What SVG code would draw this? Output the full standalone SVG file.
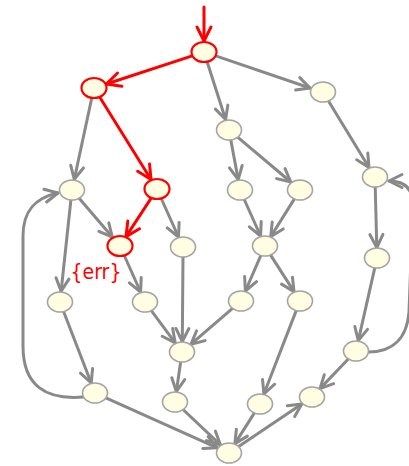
<svg xmlns="http://www.w3.org/2000/svg" width="409" height="466" viewBox="0 0 409 466">
  <style>
    .edge { fill: none; stroke: #898989; stroke-width: 3; stroke-linecap: round; }
    .edge.hot { stroke: #ff0000; }
    .node ellipse { fill: #fffde2; stroke: #a4a4a4; stroke-width: 1.6; }
    .node.hot ellipse { stroke: #ff0000; stroke-width: 2.2; }
    .label { font-family: "DejaVu Sans Condensed", "DejaVu Sans", sans-serif; font-size: 21px; fill: #ff0000; }
  </style>
  <defs>
    <marker id="arrow" markerUnits="userSpaceOnUse" orient="auto" overflow="visible" markerWidth="16" markerHeight="16" refX="0" refY="0">
      <path d="M-13,-6.5 L0,0 L-13,6.5" fill="none" stroke="#898989" stroke-width="3" stroke-linecap="round" stroke-linejoin="round"/>
    </marker>
    <marker id="arrow-hot" markerUnits="userSpaceOnUse" orient="auto" overflow="visible" markerWidth="16" markerHeight="16" refX="0" refY="0">
      <path d="M-14,-7 L0,0 L-14,7" fill="none" stroke="#ff0000" stroke-width="3" stroke-linecap="round" stroke-linejoin="round"/>
    </marker>
  </defs>

  <g id="connectors">
    <!-- gray edges -->
    <g marker-end="url(#arrow)">
      <line class="edge" x1="215" y1="55.7" x2="310" y2="88"/>
      <line class="edge" x1="206.8" y1="60.7" x2="225.6" y2="119.5"/>
      <line class="edge" x1="92" y1="96.9" x2="74.3" y2="179.3"/>
      <line class="edge" x1="328" y1="100.2" x2="369" y2="167.5"/>
      <line class="edge" x1="230.6" y1="138.9" x2="238.2" y2="179.5"/>
      <line class="edge" x1="237" y1="136.7" x2="290.8" y2="182"/>
      <line class="edge" x1="78.5" y1="197.6" x2="112.3" y2="237"/>
      <line class="edge" x1="71" y1="199" x2="61.1" y2="291.3"/>
      <line class="edge" x1="160.8" y1="197.5" x2="178.5" y2="237"/>
      <line class="edge" x1="123.8" y1="254.5" x2="140.6" y2="292"/>
      <line class="edge" x1="183" y1="256.5" x2="182.3" y2="341.5"/>
      <line class="edge" x1="150.8" y1="309.9" x2="175.2" y2="342.8"/>
      <line class="edge" x1="243.8" y1="198.5" x2="260.6" y2="236"/>
      <line class="edge" x1="294.9" y1="198.1" x2="270.8" y2="236.5"/>
      <line class="edge" x1="261.3" y1="254.4" x2="245.4" y2="291"/>
      <line class="edge" x1="270" y1="254.1" x2="294" y2="291.6"/>
      <line class="edge" x1="233.1" y1="307.8" x2="191" y2="344.2"/>
      <line class="edge" x1="375.2" y1="186.5" x2="376.8" y2="247.5"/>
      <line class="edge" x1="375" y1="266.9" x2="358.3" y2="340.6"/>
      <line class="edge" x1="63.3" y1="310.7" x2="91.2" y2="383"/>
      <line class="edge" x1="180.7" y1="361.5" x2="176.4" y2="391.5"/>
      <line class="edge" x1="296.7" y1="309.4" x2="263.9" y2="394"/>
      <line class="edge" x1="349" y1="358.3" x2="320" y2="388.6"/>
      <line class="edge" x1="105.3" y1="397.6" x2="217.3" y2="447.8"/>
      <line class="edge" x1="182.5" y1="409" x2="220.4" y2="444.8"/>
      <line class="edge" x1="254.9" y1="412.1" x2="234.9" y2="443.6"/>
      <line class="edge" x1="237.9" y1="447" x2="301.8" y2="403.9"/>
      <!-- feedback loops -->
      <path class="edge" d="M83,397 C46,400 23,386 23,346 L23,236 C23,212 34,198 58,193"/>
      <path class="edge" d="M368,352 C394,352 407,337 409,312 L413,205 C413,189 405,181 389,181"/>
    </g>
    <!-- highlighted path -->
    <g marker-end="url(#arrow-hot)">
      <line class="edge hot" x1="204" y1="7" x2="204" y2="41"/>
      <line class="edge hot" x1="193" y1="55.6" x2="106.4" y2="84"/>
      <line class="edge hot" x1="99" y1="96" x2="151" y2="179.5"/>
      <line class="edge hot" x1="151.8" y1="197.1" x2="126" y2="236.6"/>
    </g>
  </g>

  <g id="n-a0" class="node hot"><ellipse cx="204" cy="52" rx="12.5" ry="10"/></g>
  <g id="n-a1" class="node hot"><ellipse cx="94" cy="88" rx="12.5" ry="10"/></g>
  <g id="n-a2" class="node"><ellipse cx="323" cy="92" rx="12.5" ry="10"/></g>
  <g id="n-a3" class="node"><ellipse cx="229" cy="130" rx="12.5" ry="10"/></g>
  <g id="n-b1" class="node"><ellipse cx="72" cy="190" rx="12.5" ry="10"/></g>
  <g id="n-b2" class="node hot"><ellipse cx="157" cy="189" rx="12.5" ry="10"/></g>
  <g id="n-b3" class="node"><ellipse cx="240" cy="190" rx="12.5" ry="10"/></g>
  <g id="n-b4" class="node"><ellipse cx="300" cy="190" rx="12.5" ry="10"/></g>
  <g id="n-b5" class="node"><ellipse cx="375" cy="177" rx="12.5" ry="10"/></g>
  <g id="n-c1" class="node hot"><ellipse cx="120" cy="246" rx="12.5" ry="10"/></g>
  <g id="n-c2" class="node"><ellipse cx="183" cy="247" rx="12.5" ry="10"/></g>
  <g id="n-c3" class="node"><ellipse cx="265" cy="246" rx="12.5" ry="10"/></g>
  <g id="n-c4" class="node"><ellipse cx="377" cy="258" rx="12.5" ry="10"/></g>
  <g id="n-d1" class="node"><ellipse cx="60" cy="302" rx="12.5" ry="10"/></g>
  <g id="n-d2" class="node"><ellipse cx="145" cy="302" rx="12.5" ry="10"/></g>
  <g id="n-d3" class="node"><ellipse cx="241" cy="301" rx="12.5" ry="10"/></g>
  <g id="n-d4" class="node"><ellipse cx="300" cy="301" rx="12.5" ry="10"/></g>
  <g id="n-e1" class="node"><ellipse cx="182" cy="352" rx="12.5" ry="10"/></g>
  <g id="n-e2" class="node"><ellipse cx="356" cy="351" rx="12.5" ry="10"/></g>
  <g id="n-f1" class="node"><ellipse cx="95" cy="393" rx="12.5" ry="10"/></g>
  <g id="n-f2" class="node"><ellipse cx="175" cy="402" rx="12.5" ry="10"/></g>
  <g id="n-f3" class="node"><ellipse cx="260" cy="404" rx="12.5" ry="10"/></g>
  <g id="n-f4" class="node"><ellipse cx="312" cy="397" rx="12.5" ry="10"/></g>
  <g id="n-g" class="node"><ellipse cx="229" cy="453" rx="12.5" ry="10"/></g>

  <text class="label" x="96" y="279" text-anchor="middle">{err}</text>
</svg>
